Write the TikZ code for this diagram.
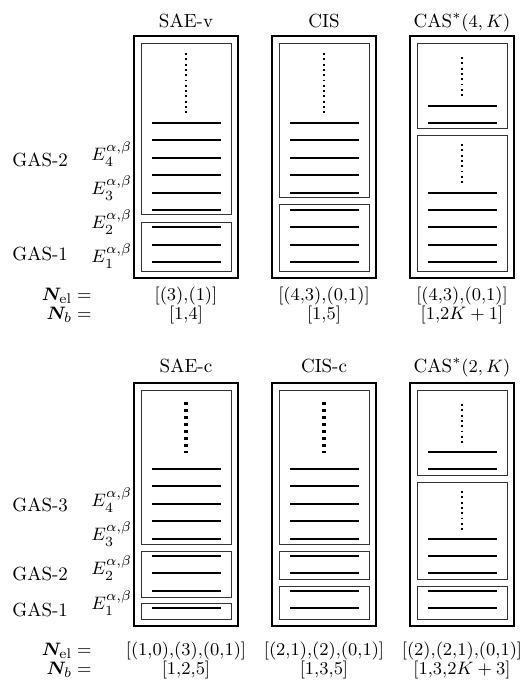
\documentclass[tikz,border=0pt]{standalone}
\usepackage{bm}
\begin{document}
\begin{tikzpicture}[x=0.5pt,y=-0.5pt,
  font=\fontsize{9.5}{11.4}\selectfont,
  frame/.style={line width=1pt},
  group/.style={line width=0.5pt, draw=black!80},
  level/.style={line width=0.8pt},
  ellip/.style={line width=0.95pt, dash pattern=on 0.95pt off 1.7pt},
  ellipbold/.style={line width=1.6pt, dash pattern=on 1.6pt off 1.9pt},
  lbl/.style={inner sep=0pt, anchor=base west},
  val/.style={inner sep=0pt, anchor=base},
  key/.style={inner sep=0pt, anchor=base east}]
\useasboundingbox (0,0) rectangle (525,686);

% ---------------- upper panel ----------------
\node[val] (tA) at (186,27) {SAE-v};
\node[val] (tB) at (324,27) {CIS};
\node[val] (tC) at (462,27) {CAS$^*(4,K)$};

\foreach \c in {134,272,410} \draw[frame] (\c,36) rectangle (\c+104,278);

% SAE-v groups
\draw[group] (141,43) rectangle (231,214);
\draw[group] (141,222) rectangle (231,271);
\foreach \y in {123,140,158,175,193,210,227,245,262}
  \draw[level] (152,\y) -- (221,\y);
\draw[ellip] (186,53) -- (186,114);

% CIS groups
\draw[group] (279,43) rectangle (369,197);
\draw[group] (279,204) rectangle (369,271);
\foreach \y in {123,140,158,175,193,210,227,245,262}
  \draw[level] (290,\y) -- (359,\y);
\draw[ellip] (324,53) -- (324,114);

% CAS*(4,K) groups
\draw[group] (417,43) rectangle (507,128);
\draw[group] (417,135) rectangle (507,271);
\foreach \y in {106,123,193,210,227,245,262}
  \draw[level] (428,\y) -- (497,\y);
\draw[ellip] (462,57) -- (462,98);
\draw[ellip] (462,144) -- (462,184);

% level and space labels
\node[lbl] (gA2) at (12,166) {GAS-2};
\node[lbl] (gA1) at (12,260) {GAS-1};
\node[lbl] (eA4) at (91,160) {$E_4^{\alpha,\beta}$};
\node[lbl] (eA3) at (91,194) {$E_3^{\alpha,\beta}$};
\node[lbl] (eA2) at (91,228) {$E_2^{\alpha,\beta}$};
\node[lbl] (eA1) at (91,262) {$E_1^{\alpha,\beta}$};

\node[key] (kA1) at (92,300) {$\bm{N}_{\mathrm{el}} =$};
\node[key] (kA2) at (92,319) {$\bm{N}_{b} =$};
\node[val] (vA1) at (186,300) {$[(3){,}(1)]$};
\node[val] (vA2) at (186,319) {$[1{,}4]$};
\node[val] (vB1) at (324,300) {$[(4{,}3){,}(0{,}1)]$};
\node[val] (vB2) at (324,319) {$[1{,}5]$};
\node[val] (vC1) at (462,300) {$[(4{,}3){,}(0{,}1)]$};
\node[val] (vC2) at (462,319) {$[1{,}2K+1]$};

% ---------------- lower panel ----------------
\node[val] (tD) at (186,372) {SAE-c};
\node[val] (tE) at (324,372) {CIS-c};
\node[val] (tF) at (462,372) {CAS$^*(2,K)$};

\foreach \c in {134,272,410} \draw[frame] (\c,383) rectangle (\c+104,626);

% SAE-c groups
\draw[group] (141,390) rectangle (231,544);
\draw[group] (141,551) rectangle (231,597);
\draw[group] (141,603) rectangle (231,619);
\foreach \y in {469,486,504,521,539,556,573,591,608}
  \draw[level] (152,\y) -- (221,\y);
\draw[ellipbold] (186,402) -- (186,453);

% CIS-c groups
\draw[group] (279,390) rectangle (369,544);
\draw[group] (279,551) rectangle (369,579);
\draw[group] (279,586) rectangle (369,619);
\foreach \y in {469,486,504,521,539,556,573,591,608}
  \draw[level] (290,\y) -- (359,\y);
\draw[ellipbold] (324,402) -- (324,453);

% CAS*(2,K) groups
\draw[group] (417,390) rectangle (507,475);
\draw[group] (417,482) rectangle (507,579);
\draw[group] (417,586) rectangle (507,619);
\foreach \y in {452,469,539,556,573,591,608}
  \draw[level] (428,\y) -- (497,\y);
\draw[ellip] (462,404) -- (462,444);
\draw[ellip] (462,491) -- (462,532);

\node[lbl] (gB3) at (12,511) {GAS-3};
\node[lbl] (gB2) at (12,580) {GAS-2};
\node[lbl] (gB1) at (12,616) {GAS-1};
\node[lbl] (eB4) at (91,506) {$E_4^{\alpha,\beta}$};
\node[lbl] (eB3) at (91,540) {$E_3^{\alpha,\beta}$};
\node[lbl] (eB2) at (91,574) {$E_2^{\alpha,\beta}$};
\node[lbl] (eB1) at (91,609) {$E_1^{\alpha,\beta}$};

\node[key] (kB1) at (92,655) {$\bm{N}_{\mathrm{el}} =$};
\node[key] (kB2) at (92,674) {$\bm{N}_{b} =$};
\node[val] (vD1) at (186,655) {$[(1{,}0){,}(3){,}(0{,}1)]$};
\node[val] (vD2) at (186,674) {$[1{,}2{,}5]$};
\node[val] (vE1) at (324,655) {$[(2{,}1){,}(2){,}(0{,}1)]$};
\node[val] (vE2) at (324,674) {$[1{,}3{,}5]$};
\node[val] (vF1) at (462,655) {$[(2){,}(2{,}1){,}(0{,}1)]$};
\node[val] (vF2) at (462,674) {$[1{,}3{,}2K+3]$};
\end{tikzpicture}
\end{document}
